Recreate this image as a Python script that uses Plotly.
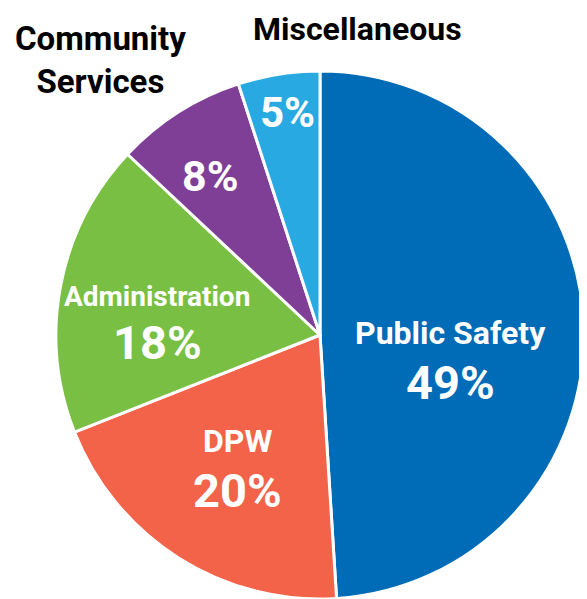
import plotly.graph_objects as go

categories = ["Public Safety", "DPW", "Administration", "Community Services", "Miscellaneous"]
values = [49, 20, 18, 8, 5]
colors = ["#006bb6", "#f26349", "#78bf44", "#7f3f97", "#29a9e1"]

W, H = 587, 599
OFF = 8  # page body margin
FW, FH = W - OFF, H - OFF
FONT = "Roboto, 'Liberation Sans', sans-serif"


def px_x(x):
    return (x - OFF) / FW


def px_y(y):
    return 1 - (y - OFF) / FH


fig = go.Figure(go.Pie(
    labels=categories,
    values=values,
    sort=False,
    direction="clockwise",
    rotation=0,
    marker=dict(colors=colors, line=dict(color="white", width=3)),
    textinfo="none",
    hoverinfo="label+percent",
    domain=dict(x=[px_x(56), px_x(584)], y=[0.0, px_y(71)]),
    showlegend=False,
))

name_pos = {
    "Public Safety": (450, 333, 32, "white"),
    "DPW": (237, 441, 32, "white"),
    "Administration": (157, 296, 28, "white"),
    "Community Services": (100, 60, 33, "black"),
    "Miscellaneous": (357, 29, 32, "black"),
}
pct_pos = {
    "Public Safety": (450, 382, 47),
    "DPW": (237, 490, 47),
    "Administration": (157, 342, 47),
    "Community Services": (210, 176, 43),
    "Miscellaneous": (287, 113, 42),
}

annotations = []
for cat, val in zip(categories, values):
    x, y, size, col = name_pos[cat]
    text = cat.replace("Community Services", "Community<br>Services")
    annotations.append(dict(
        x=px_x(x), y=px_y(y), xref="paper", yref="paper",
        text="<b>%s</b>" % text, showarrow=False,
        xanchor="center", yanchor="middle",
        font=dict(family=FONT, size=size, color=col),
    ))
    px, py, psize = pct_pos[cat]
    annotations.append(dict(
        x=px_x(px), y=px_y(py), xref="paper", yref="paper",
        text="<b>%d%%</b>" % val, showarrow=False,
        xanchor="center", yanchor="middle",
        font=dict(family=FONT, size=psize, color="white"),
    ))

fig.update_layout(
    width=FW, height=FH,
    margin=dict(l=0, r=0, t=0, b=0),
    paper_bgcolor="white",
    plot_bgcolor="white",
    annotations=annotations,
)

fig.write_html("out.html")
